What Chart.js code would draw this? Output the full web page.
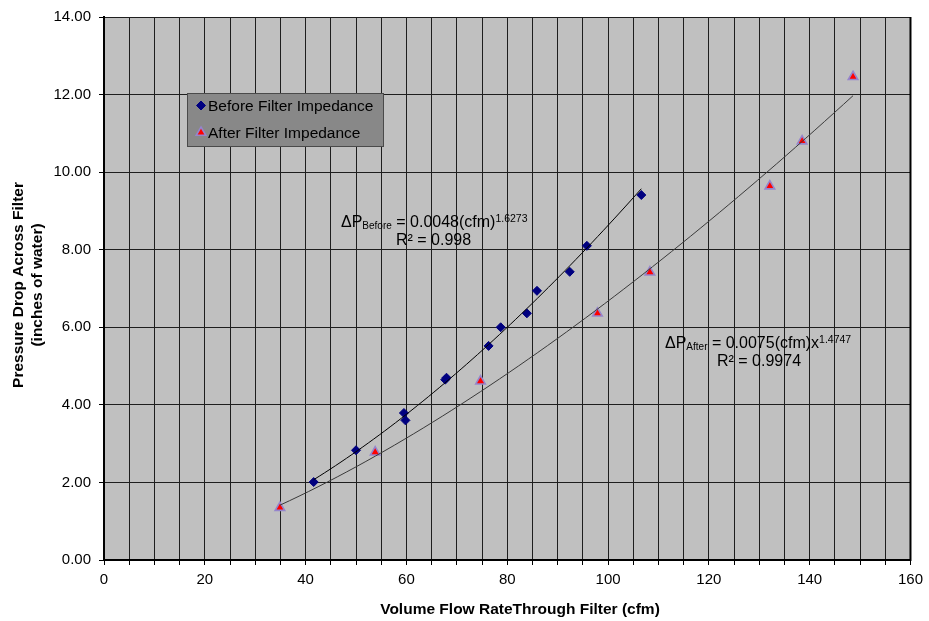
<!DOCTYPE html>
<html>
<head>
<meta charset="utf-8">
<script src="https://cdn.jsdelivr.net/npm/chart.js@4.4.1/dist/chart.umd.min.js"></script>
<style>
  html, body { margin: 0; padding: 0; background: #fff; }
  canvas { display: block; }
</style>
</head>
<body>
<canvas id="chart" width="929" height="621"></canvas>
<script>
// ---- data ----
const beforeFlow = [41.6, 50.0, 59.5, 59.8, 67.7, 67.95, 76.3, 78.7, 83.9, 85.9, 92.4, 95.8, 106.6];
const beforeDrop = [2.01, 2.83, 3.79, 3.60, 4.65, 4.70, 5.52, 6.00, 6.36, 6.94, 7.43, 8.10, 9.41];
const afterFlow = [34.9, 53.8, 74.7, 97.9, 108.3, 132.1, 138.5, 148.6];
const afterDrop = [1.35, 2.78, 4.61, 6.36, 7.42, 9.64, 10.80, 12.46];

// power trendlines shown on the chart: dP = a * cfm^b
const beforeFit = [0.0048, 1.6273];
const afterFit = [0.0075, 1.4747];
const beforeR2 = '0.998';
const afterR2 = '0.9974';

const seriesLabels = ['Before Filter Impedance', 'After Filter Impedance'];
const xTitle = 'Volume Flow RateThrough Filter (cfm)';
const yTitle = ['Pressure Drop Across Filter', '(inches of water)'];

const FONT = '"Liberation Sans", Arial, sans-serif';

function toPoints(xs, ys) {
  return xs.map((x, i) => ({ x: x, y: ys[i] }));
}

// trendline curve over the span of the measured flows
function trend(xs, fit) {
  const lo = Math.min(...xs), hi = Math.max(...xs);
  const pts = [];
  const n = 60;
  for (let i = 0; i <= n; i++) {
    const x = lo + (hi - lo) * i / n;
    pts.push({ x: x, y: fit[0] * Math.pow(x, fit[1]) });
  }
  return pts;
}

// plot background + right border
const plotArea = {
  id: 'plotArea',
  beforeDraw(chart) {
    const { ctx, chartArea: a } = chart;
    ctx.save();
    ctx.fillStyle = '#C0C0C0';
    ctx.fillRect(a.left, a.top, a.right - a.left, a.bottom - a.top);
    ctx.restore();
  },
  afterDatasetsDraw(chart) {
    const { ctx, chartArea: a } = chart;
    ctx.save();
    ctx.strokeStyle = '#000';
    ctx.lineWidth = 2;
    ctx.beginPath();
    ctx.moveTo(a.right, a.top);
    ctx.lineTo(a.right, a.bottom + 1);
    ctx.stroke();
    ctx.restore();
  }
};

// axis titles, legend box and trendline equations
const decorations = {
  id: 'decorations',
  afterDraw(chart) {
    const ctx = chart.ctx;
    ctx.save();
    ctx.fillStyle = '#000';

    // x title
    ctx.font = 'bold 15.5px ' + FONT;
    ctx.textAlign = 'center';
    ctx.textBaseline = 'alphabetic';
    ctx.fillText(xTitle, 520, 614);

    // y title (two rotated lines)
    ctx.save();
    ctx.translate(23, 285);
    ctx.rotate(-Math.PI / 2);
    ctx.fillText(yTitle[0], 0, 0);
    ctx.fillText(yTitle[1], 0, 18.5);
    ctx.restore();

    // legend
    ctx.fillStyle = '#888888';
    ctx.fillRect(187, 93, 196, 53);
    ctx.strokeStyle = '#4a4a4a';
    ctx.lineWidth = 1;
    ctx.strokeRect(187.5, 93.5, 196, 53);
    ctx.font = '15.5px ' + FONT;
    ctx.textAlign = 'left';
    const rows = [105.5, 132.5];
    chart.data.datasets.slice(0, 2).forEach((ds, i) => {
      ctx.fillStyle = ds.backgroundColor;
      ctx.strokeStyle = ds.borderColor;
      ctx.lineWidth = ds.pointBorderWidth;
      Chart.helpers.drawPoint(ctx, {
        pointStyle: ds.pointStyle,
        radius: ds.pointRadius,
        rotation: 0,
        borderWidth: ds.pointBorderWidth
      }, 201, rows[i]);
      ctx.fillStyle = '#000';
      ctx.fillText(ds.label, 208, rows[i] + 5.5);
    });

    // equations
    function equation(x, y, sub, main, sup) {
      ctx.font = '16px ' + FONT;
      ctx.fillText('\u0394P', x, y);
      x += ctx.measureText('\u0394P').width;
      ctx.font = '10px ' + FONT;
      ctx.fillText(sub, x, y + 2);
      x += ctx.measureText(sub).width;
      ctx.font = '16px ' + FONT;
      ctx.fillText(main, x, y);
      x += ctx.measureText(main).width;
      ctx.font = '10.5px ' + FONT;
      ctx.fillText(sup, x, y - 5);
    }
    ctx.fillStyle = '#000';
    equation(341, 227, 'Before', ' = ' + beforeFit[0].toFixed(4) + '(cfm)', String(beforeFit[1]));
    ctx.font = '16px ' + FONT;
    ctx.fillText('R\u00B2 = ' + beforeR2, 396, 245);
    equation(665, 348, 'After', ' = ' + afterFit[0].toFixed(4) + '(cfm)x', String(afterFit[1]));
    ctx.font = '16px ' + FONT;
    ctx.fillText('R\u00B2 = ' + afterR2, 717, 366);

    ctx.restore();
  }
};

const chart = new Chart(document.getElementById('chart').getContext('2d'), {
  type: 'scatter',
  data: {
    datasets: [
      {
        label: seriesLabels[0],
        data: toPoints(beforeFlow, beforeDrop),
        pointStyle: 'rectRot',
        pointRadius: 4.5,
        pointBorderWidth: 1,
        backgroundColor: '#000080',
        borderColor: '#000080',
        order: 1
      },
      {
        label: seriesLabels[1],
        data: toPoints(afterFlow, afterDrop),
        pointStyle: 'triangle',
        pointRadius: 5.5,
        pointBorderWidth: 1.6,
        backgroundColor: '#FF0000',
        borderColor: '#9585cc',
        order: 1
      },
      {
        label: 'Before trend',
        data: trend(beforeFlow, beforeFit),
        showLine: true,
        pointRadius: 0,
        borderColor: '#000',
        borderWidth: 1,
        order: 0
      },
      {
        label: 'After trend',
        data: trend(afterFlow, afterFit),
        showLine: true,
        pointRadius: 0,
        borderColor: '#3a3a3a',
        borderWidth: 1,
        order: 0
      }
    ]
  },
  options: {
    responsive: false,
    animation: false,
    devicePixelRatio: 1,
    layout: { padding: { top: 14, right: 12, left: 0, bottom: 0 } },
    plugins: {
      legend: { display: false },
      tooltip: { enabled: false }
    },
    scales: {
      x: {
        type: 'linear',
        min: 0,
        max: 160,
        afterFit(scale) { scale.height = 61; },
        ticks: {
          stepSize: 5,
          autoSkip: false,
          maxRotation: 0,
          padding: 6,
          color: '#000',
          font: { family: FONT, size: 15 },
          callback: v => (v % 20 === 0 ? String(v) : '')
        },
        grid: { color: '#1e1e1e', lineWidth: 1, tickLength: 5, tickColor: '#000' },
        border: { color: '#000', width: 2 }
      },
      y: {
        type: 'linear',
        min: 0,
        max: 14,
        afterFit(scale) { scale.width = 104; },
        ticks: {
          stepSize: 2,
          padding: 8,
          color: '#000',
          font: { family: FONT, size: 15 },
          callback: v => v.toFixed(2)
        },
        grid: { color: '#1e1e1e', lineWidth: 1, tickLength: 5, tickColor: '#000' },
        border: { color: '#000', width: 2 }
      }
    }
  },
  plugins: [plotArea, decorations]
});
</script>
</body>
</html>
